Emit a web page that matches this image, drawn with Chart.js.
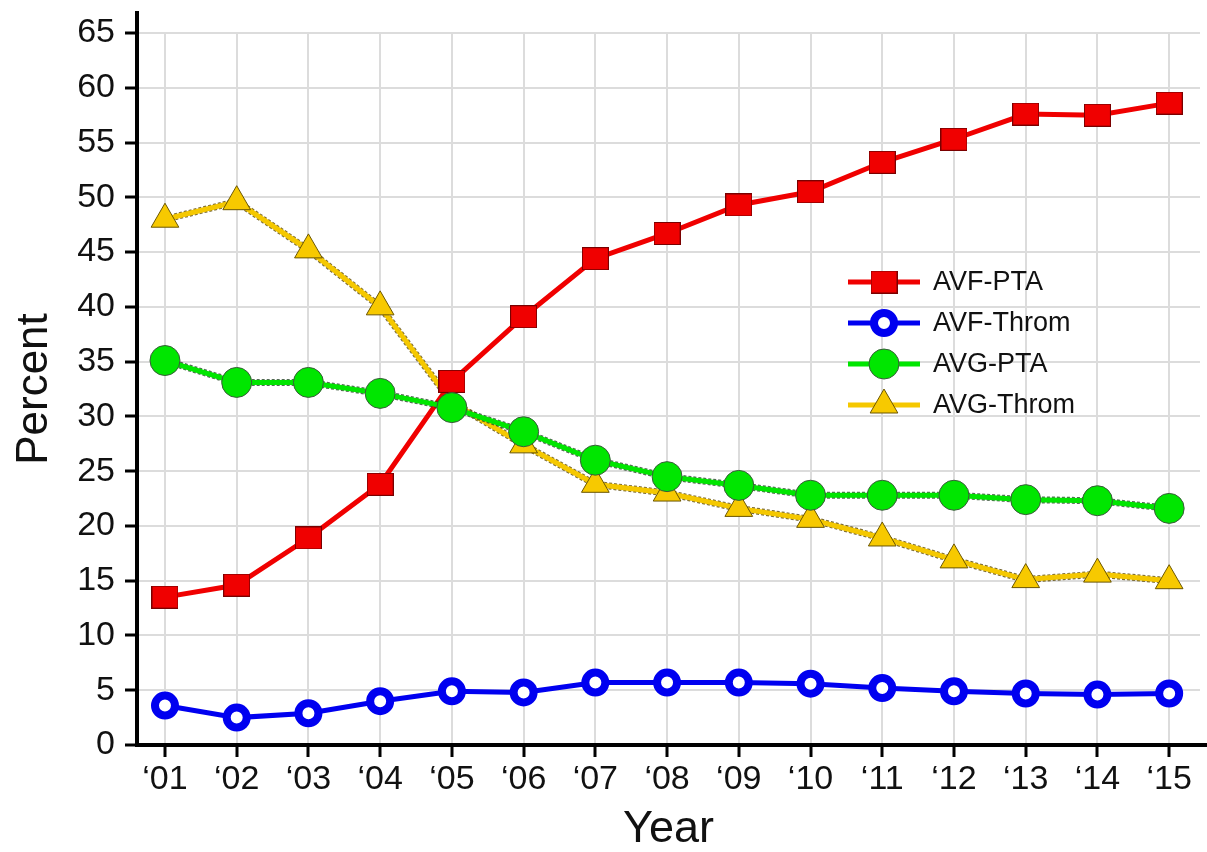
<!DOCTYPE html>
<html>
<head>
<meta charset="utf-8">
<title>Access procedures by year</title>
<script src="https://cdn.jsdelivr.net/npm/chart.js@4.4.1/dist/chart.umd.min.js"></script>
<style>
  html, body { margin: 0; padding: 0; background: #ffffff; }
  #wrap { width: 1207px; height: 852px; position: relative; }
</style>
</head>
<body>
<div id="wrap"><canvas id="chart"></canvas></div>
<script>
// Years on the x axis
const years = ['\u201801', '\u201802', '\u201803', '\u201804', '\u201805', '\u201806', '\u201807', '\u201808',
               '\u201809', '\u201810', '\u201811', '\u201812', '\u201813', '\u201814', '\u201815'];

// Percent of procedures per year
const avfPta   = [13.5, 14.6, 18.9, 23.8, 33.2, 39.1, 44.4, 46.7, 49.3, 50.5, 53.2, 55.3, 57.6, 57.5, 58.6];
const avfThrom = [3.6, 2.5, 2.9, 4.0, 4.9, 4.8, 5.7, 5.7, 5.7, 5.6, 5.2, 4.9, 4.7, 4.6, 4.7];
const avgPta   = [35.1, 33.1, 33.1, 32.1, 30.8, 28.6, 26.0, 24.5, 23.7, 22.8, 22.8, 22.8, 22.4, 22.3, 21.6];
const avgThrom = [48.0, 49.6, 45.2, 40.0, 31.3, 27.4, 23.8, 23.0, 21.6, 20.6, 18.9, 16.9, 15.1, 15.6, 15.0];

// Y axis tick values
const yTickValues = [0, 5, 10, 15, 20, 25, 30, 35, 40, 45, 50, 55, 60, 65];

const FONT = "'Liberation Sans', Arial, Helvetica, sans-serif";

// Red square marker, slightly wider than tall
function makeSquare(w, h, fill, edge) {
  const c = document.createElement('canvas');
  c.width = w; c.height = h;
  const g = c.getContext('2d');
  g.fillStyle = fill;
  g.fillRect(0, 0, w, h);
  g.strokeStyle = edge;
  g.lineWidth = 1;
  g.strokeRect(0.5, 0.5, w - 1, h - 1);
  return c;
}
const squareMarker = makeSquare(27, 23, '#f00000', '#7a0000');

const toPoints = arr => arr.map((v, i) => ({ x: i + 1, y: v }));

const datasets = [
  {
    label: 'AVF-PTA',
    data: toPoints(avfPta),
    borderColor: '#f00000',
    borderWidth: 5,
    pointStyle: squareMarker,
    pointRadius: 14,
    pointBackgroundColor: '#f00000',
    pointBorderColor: '#7a0000',
    pointBorderWidth: 1,
    order: 2
  },
  {
    label: 'AVF-Throm',
    data: toPoints(avfThrom),
    borderColor: '#0000f0',
    borderWidth: 5,
    pointStyle: 'circle',
    pointRadius: 10,
    pointBackgroundColor: '#ffffff',
    pointBorderColor: '#0000f0',
    pointBorderWidth: 8,
    order: 1
  },
  {
    label: 'AVG-PTA',
    data: toPoints(avgPta),
    borderColor: '#00e600',
    borderWidth: 5,
    edgeColor: 'rgba(40,70,40,0.8)',
    pointStyle: 'circle',
    pointRadius: 15,
    pointBackgroundColor: '#00e600',
    pointBorderColor: '#3a5a3a',
    pointBorderWidth: 1,
    order: 0
  },
  {
    label: 'AVG-Throm',
    data: toPoints(avgThrom),
    borderColor: '#f5c800',
    borderWidth: 5,
    edgeColor: 'rgba(90,70,0,0.8)',
    pointStyle: 'triangle',
    pointRadius: 16,
    pointBackgroundColor: '#f7c900',
    pointBorderColor: '#6b5600',
    pointBorderWidth: 1,
    order: 3
  }
];

// Thin dark dashed edge under some of the lines
const lineEdge = {
  id: 'lineEdge',
  beforeDatasetDraw(chart, args) {
    const ds = chart.data.datasets[args.index];
    if (!ds.edgeColor) return;
    const pts = args.meta.data;
    const ctx = chart.ctx;
    ctx.save();
    ctx.beginPath();
    pts.forEach((p, i) => i ? ctx.lineTo(p.x, p.y) : ctx.moveTo(p.x, p.y));
    ctx.lineWidth = ds.borderWidth + 2;
    ctx.strokeStyle = ds.edgeColor;
    ctx.setLineDash([3, 2]);
    ctx.lineJoin = 'round';
    ctx.stroke();
    ctx.restore();
  }
};

// Axis lines run a little past the plotting grid
const axisExtend = {
  id: 'axisExtend',
  beforeDatasetsDraw(chart) {
    const { ctx, chartArea } = chart;
    ctx.save();
    ctx.strokeStyle = '#000';
    ctx.lineWidth = 4;
    ctx.lineCap = 'butt';
    ctx.beginPath();
    ctx.moveTo(chartArea.left, chartArea.top + 1);
    ctx.lineTo(chartArea.left, chartArea.top - 22);
    ctx.stroke();
    ctx.beginPath();
    ctx.moveTo(chartArea.right - 2, chartArea.bottom);
    ctx.lineTo(chart.width, chartArea.bottom);
    ctx.stroke();
    ctx.restore();
  }
};

function drawMarker(ctx, ds, x, y) {
  const style = ds.pointStyle;
  const r = ds.pointRadius;
  ctx.save();
  ctx.fillStyle = ds.pointBackgroundColor;
  ctx.strokeStyle = ds.pointBorderColor;
  ctx.lineWidth = ds.pointBorderWidth;
  if (style instanceof HTMLCanvasElement) {
    ctx.drawImage(style, x - style.width / 2, y - style.height / 2);
  } else if (style === 'triangle') {
    ctx.beginPath();
    let a = 0;
    ctx.moveTo(x + Math.sin(a) * r, y - Math.cos(a) * r);
    a += 2 * Math.PI / 3;
    ctx.lineTo(x + Math.sin(a) * r, y - Math.cos(a) * r);
    a += 2 * Math.PI / 3;
    ctx.lineTo(x + Math.sin(a) * r, y - Math.cos(a) * r);
    ctx.closePath();
    ctx.fill();
    ctx.stroke();
  } else {
    ctx.beginPath();
    ctx.arc(x, y, r, 0, Math.PI * 2);
    ctx.fill();
    ctx.stroke();
  }
  ctx.restore();
}

// Legend with a line sample and the marker in its middle
const lineLegend = {
  id: 'lineLegend',
  afterDraw(chart, args, opts) {
    const ctx = chart.ctx;
    const x0 = opts.x, y0 = opts.y;
    chart.data.datasets.forEach((ds, i) => {
      const y = y0 + i * opts.spacing;
      ctx.save();
      ctx.strokeStyle = ds.borderColor;
      ctx.lineWidth = ds.borderWidth;
      ctx.beginPath();
      ctx.moveTo(x0, y);
      ctx.lineTo(x0 + opts.sampleWidth, y);
      ctx.stroke();
      ctx.restore();
      drawMarker(ctx, ds, x0 + opts.sampleWidth / 2, y);
      ctx.save();
      ctx.fillStyle = '#111';
      ctx.font = opts.fontSize + 'px ' + FONT;
      ctx.textAlign = 'left';
      ctx.textBaseline = 'middle';
      ctx.fillText(ds.label, x0 + opts.sampleWidth + opts.gap, y + 1);
      ctx.restore();
    });
  }
};

new Chart(document.getElementById('chart'), {
  type: 'line',
  data: { datasets },
  plugins: [lineEdge, axisExtend, lineLegend],
  options: {
    responsive: true,
    maintainAspectRatio: false,
    animation: false,
    events: [],
    layout: { autoPadding: false, padding: { top: 33, right: 7, left: 0, bottom: 0 } },
    elements: { line: { tension: 0, fill: false } },
    plugins: {
      legend: { display: false },
      tooltip: { enabled: false },
      lineLegend: { x: 848, y: 282, spacing: 41, sampleWidth: 72, gap: 13, fontSize: 27 }
    },
    scales: {
      x: {
        type: 'linear',
        min: 0.61,
        max: 15.43,
        afterFit(scale) {
          scale.height = 107;
          scale.paddingLeft = 0;
          scale.paddingRight = 0;
        },
        afterBuildTicks(scale) { scale.ticks = years.map((_, i) => ({ value: i + 1 })); },
        ticks: {
          autoSkip: false,
          maxRotation: 0,
          padding: 2,
          color: '#111',
          font: { family: FONT, size: 34 },
          callback: v => years[v - 1]
        },
        grid: {
          color: '#dcdcdc',
          lineWidth: 2,
          tickColor: '#000',
          tickWidth: 3,
          tickLength: 12
        },
        border: { color: '#000', width: 4 },
        title: {
          display: true,
          text: 'Year',
          color: '#111',
          font: { family: FONT, size: 45, lineHeight: 1 },
          padding: { top: 1, bottom: 0 }
        }
      },
      y: {
        min: 0,
        max: 65,
        afterFit(scale) {
          scale.width = 137;
          scale.paddingTop = 0;
          scale.paddingBottom = 0;
        },
        afterBuildTicks(scale) { scale.ticks = yTickValues.map(v => ({ value: v })); },
        ticks: {
          padding: 10,
          color: '#111',
          font: { family: FONT, size: 34 }
        },
        grid: {
          color: ctx => ctx.tick && ctx.tick.value === 0 ? 'rgba(0,0,0,0)' : '#dcdcdc',
          lineWidth: 2,
          tickColor: '#000',
          tickWidth: 3,
          tickLength: 12
        },
        border: { color: '#000', width: 4 },
        title: {
          display: true,
          text: 'Percent',
          color: '#111',
          font: { family: FONT, size: 44, lineHeight: 1 },
          padding: { top: 13, bottom: 0 }
        }
      }
    }
  }
});
</script>
</body>
</html>
